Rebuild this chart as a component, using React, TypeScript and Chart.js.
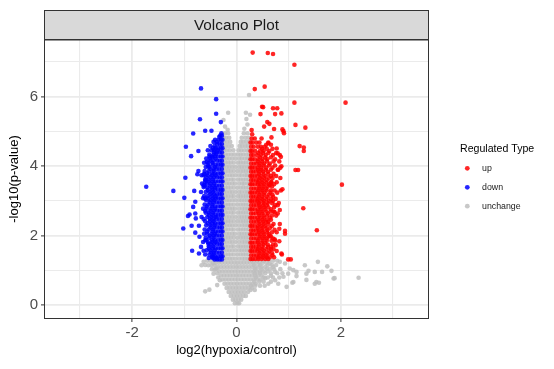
import { useEffect, useRef } from 'react';
import { Chart, registerables } from 'chart.js';

Chart.register(...registerables);

// ---------------- data ----------------
const categories = ['up', 'down', 'unchange'];
const categoryColors = ['rgba(255,0,0,0.85)', 'rgba(0,0,255,0.85)', 'rgba(190,190,190,0.85)'];

const xGrid = [-3, -2, -1, 0, 1, 2, 3];
const yGrid = [0, 1, 2, 3, 4, 5, 6, 7];
const xTickLabels = ['-2', '0', '2'];
const yTickLabels = ['0', '2', '4', '6'];

// up-regulated: isolated points [log2FC, -log10 p]
const upScatter: number[][] = [
  [0.31, 7.27], [0.6, 7.26], [0.7, 7.23], [1.11, 6.92], [0.35, 6.22], [0.54, 6.29], [1.11, 5.83], [2.09, 5.83],
  [0.49, 5.71], [0.51, 5.7], [0.7, 5.67], [0.78, 5.67], [0.86, 5.52], [0.74, 5.5], [0.46, 5.5], [0.59, 5.27],
  [0.63, 5.22], [0.53, 5.14], [0.72, 5.07], [0.88, 5.06], [0.91, 4.95], [0.9, 5.01], [1.13, 5.19], [1.32, 5.11],
  [0.67, 4.83], [0.29, 5.04], [0.3, 4.92], [0.61, 4.66], [0.77, 4.51], [0.79, 4.37], [1.21, 4.58], [1.29, 4.54],
  [1.29, 4.44], [1.13, 3.89], [1.18, 3.89], [2.02, 3.47], [0.88, 3.34], [1.28, 2.79], [1.54, 2.16], [0.93, 2.14],
  [0.83, 4.32], [0.85, 4.27], [0.86, 4.0], [0.8, 3.9], [0.67, 3.55], [0.64, 3.46], [0.79, 2.88], [0.83, 2.74],
  [0.73, 2.68], [0.7, 3.0], [0.61, 2.4], [0.73, 2.17], [0.82, 2.2], [0.93, 2.06], [0.75, 1.73], [0.77, 1.56],
  [0.86, 1.49], [0.99, 1.32], [1.04, 1.32], [0.64, 2.0], [0.73, 1.9], [0.87, 1.46], [0.82, 1.84],
];

// up-regulated dense band: [-log10 p, [log2FC...]]
const upBand: [number, number[]][] = [
  [4.8, [0.29, 0.35, 0.48]],
  [4.68, [0.27, 0.31, 0.38, 0.44, 0.61]],
  [4.56, [0.28, 0.33, 0.41, 0.47, 0.54]],
  [4.44, [0.27, 0.3, 0.36, 0.45, 0.52, 0.63]],
  [4.32, [0.28, 0.32, 0.39, 0.47, 0.56, 0.7]],
  [4.2, [0.27, 0.3, 0.35, 0.42, 0.5, 0.59, 0.74]],
  [4.08, [0.28, 0.33, 0.38, 0.45, 0.53, 0.64]],
  [3.96, [0.27, 0.3, 0.35, 0.41, 0.48, 0.57, 0.69, 0.84]],
  [3.84, [0.28, 0.32, 0.37, 0.44, 0.51, 0.6]],
  [3.72, [0.27, 0.3, 0.35, 0.4, 0.47, 0.55, 0.66, 0.76]],
  [3.6, [0.28, 0.32, 0.38, 0.43, 0.5, 0.58]],
  [3.48, [0.27, 0.3, 0.35, 0.41, 0.46, 0.53, 0.62, 0.72]],
  [3.36, [0.28, 0.33, 0.38, 0.44, 0.5, 0.57]],
  [3.24, [0.27, 0.3, 0.35, 0.4, 0.47, 0.54, 0.65, 0.78]],
  [3.12, [0.28, 0.32, 0.37, 0.43, 0.5, 0.59, 0.7]],
  [3.0, [0.27, 0.3, 0.35, 0.4, 0.46, 0.53, 0.62]],
  [2.88, [0.28, 0.33, 0.38, 0.44, 0.51, 0.58, 0.74]],
  [2.76, [0.27, 0.3, 0.35, 0.41, 0.47, 0.55, 0.66]],
  [2.64, [0.28, 0.32, 0.37, 0.43, 0.5, 0.6, 0.79]],
  [2.52, [0.27, 0.3, 0.35, 0.4, 0.46, 0.53, 0.64]],
  [2.4, [0.28, 0.33, 0.38, 0.44, 0.51, 0.57]],
  [2.28, [0.27, 0.3, 0.35, 0.41, 0.48, 0.55, 0.68]],
  [2.16, [0.28, 0.32, 0.37, 0.43, 0.5, 0.59]],
  [2.04, [0.27, 0.3, 0.35, 0.4, 0.46, 0.53, 0.62]],
  [1.92, [0.28, 0.33, 0.38, 0.44, 0.51, 0.58, 0.7]],
  [1.8, [0.27, 0.3, 0.35, 0.41, 0.48, 0.55]],
  [1.68, [0.28, 0.32, 0.37, 0.43, 0.5, 0.6, 0.66]],
  [1.56, [0.27, 0.3, 0.35, 0.4, 0.46, 0.53, 0.63]],
  [1.44, [0.28, 0.33, 0.38, 0.44, 0.51, 0.57, 0.69]],
  [1.33, [0.27, 0.31, 0.36, 0.42, 0.48, 0.55, 0.61]],
];

// up-regulated, outer (right) part of the band
const upBandOuter: [number, number[]][] = [
  [4.62, [0.57, 0.66]],
  [4.5, [0.49, 0.58, 0.69]],
  [4.38, [0.42, 0.51, 0.61, 0.76]],
  [4.26, [0.45, 0.55, 0.66]],
  [4.14, [0.41, 0.49, 0.58, 0.71, 0.82]],
  [4.02, [0.44, 0.52, 0.62, 0.74]],
  [3.9, [0.41, 0.48, 0.56, 0.66, 0.79]],
  [3.78, [0.43, 0.52, 0.61, 0.71]],
  [3.66, [0.45, 0.53, 0.62, 0.69, 0.84]],
  [3.54, [0.41, 0.49, 0.57, 0.66, 0.77]],
  [3.42, [0.44, 0.52, 0.6, 0.68]],
  [3.3, [0.42, 0.5, 0.58, 0.66, 0.73, 0.85]],
  [3.18, [0.44, 0.53, 0.62, 0.69]],
  [3.06, [0.41, 0.49, 0.57, 0.66, 0.75]],
  [2.94, [0.43, 0.52, 0.6, 0.68, 0.81]],
  [2.82, [0.45, 0.53, 0.61, 0.72]],
  [2.7, [0.41, 0.49, 0.57, 0.65, 0.71]],
  [2.58, [0.44, 0.52, 0.59, 0.68, 0.76]],
  [2.46, [0.42, 0.5, 0.58, 0.66]],
  [2.34, [0.44, 0.52, 0.61, 0.71, 0.83]],
  [2.22, [0.41, 0.49, 0.57, 0.64]],
  [2.1, [0.43, 0.51, 0.59, 0.68, 0.77]],
  [1.98, [0.45, 0.53, 0.61, 0.66]],
  [1.86, [0.41, 0.5, 0.58, 0.67, 0.74]],
  [1.74, [0.43, 0.52, 0.6, 0.7]],
  [1.62, [0.41, 0.49, 0.57, 0.66, 0.71]],
  [1.5, [0.44, 0.52, 0.6, 0.68]],
  [1.38, [0.42, 0.5, 0.58, 0.64, 0.72]],
];

// down-regulated: isolated points
const downScatter: number[][] = [
  [-0.68, 6.24], [-0.39, 5.93], [-0.39, 5.51], [-0.7, 5.35], [-0.3, 5.27], [-0.83, 4.94], [-0.6, 5.02], [-0.48, 5.02],
  [-0.97, 4.56], [-0.73, 4.44], [-0.87, 4.29], [-0.29, 4.95], [-0.33, 4.85], [-0.43, 4.47], [-0.39, 4.35], [-0.46, 4.26],
  [-1.73, 3.41], [-1.21, 3.29], [-0.98, 3.67], [-1.0, 3.09], [-0.81, 3.29], [-0.75, 3.77], [-0.83, 2.83], [-0.79, 2.98],
  [-0.9, 2.61], [-0.93, 2.57], [-0.79, 2.64], [-0.78, 2.5], [-1.02, 2.21], [-0.86, 2.29], [-0.72, 2.29], [-0.79, 2.09],
  [-0.6, 3.07], [-0.63, 3.4], [-0.6, 3.55], [-0.73, 3.86], [-0.54, 3.99], [-0.57, 4.13], [-0.67, 3.74], [-0.71, 1.97],
  [-0.85, 1.57], [-0.72, 1.49], [-0.63, 1.57], [-0.68, 1.68], [-0.6, 1.87], [-0.54, 1.77], [-0.47, 1.39], [-0.38, 1.35],
  [-0.62, 3.78], [-0.59, 3.59], [-0.63, 3.45],
];

// down-regulated dense band
const downBand: [number, number[]][] = [
  [4.88, [-0.28, -0.31]],
  [4.76, [-0.27, -0.3, -0.34, -0.41]],
  [4.64, [-0.28, -0.32, -0.37]],
  [4.52, [-0.27, -0.3, -0.35, -0.4, -0.45]],
  [4.4, [-0.28, -0.32, -0.38, -0.43]],
  [4.28, [-0.27, -0.3, -0.35, -0.41, -0.47, -0.52]],
  [4.16, [-0.28, -0.32, -0.37, -0.44, -0.5]],
  [4.04, [-0.27, -0.3, -0.35, -0.4, -0.46, -0.55]],
  [3.92, [-0.28, -0.33, -0.38, -0.44, -0.5]],
  [3.8, [-0.27, -0.3, -0.35, -0.41, -0.47, -0.56]],
  [3.68, [-0.28, -0.32, -0.37, -0.43, -0.5, -0.58]],
  [3.56, [-0.27, -0.3, -0.35, -0.4, -0.46, -0.53]],
  [3.44, [-0.28, -0.33, -0.38, -0.44, -0.51, -0.61]],
  [3.32, [-0.27, -0.3, -0.35, -0.41, -0.47, -0.55]],
  [3.2, [-0.28, -0.32, -0.37, -0.43, -0.5]],
  [3.08, [-0.27, -0.3, -0.35, -0.4, -0.46, -0.54, -0.64]],
  [2.96, [-0.28, -0.33, -0.38, -0.44, -0.51]],
  [2.84, [-0.27, -0.3, -0.35, -0.41, -0.47, -0.57]],
  [2.72, [-0.28, -0.32, -0.37, -0.43, -0.5, -0.6]],
  [2.6, [-0.27, -0.3, -0.35, -0.4, -0.46, -0.53]],
  [2.48, [-0.28, -0.33, -0.38, -0.44, -0.51, -0.63]],
  [2.36, [-0.27, -0.3, -0.35, -0.41, -0.47, -0.55]],
  [2.24, [-0.28, -0.32, -0.37, -0.43, -0.5]],
  [2.12, [-0.27, -0.3, -0.35, -0.4, -0.46, -0.56]],
  [2.0, [-0.28, -0.33, -0.38, -0.44, -0.51]],
  [1.88, [-0.27, -0.3, -0.35, -0.41, -0.47, -0.58]],
  [1.76, [-0.28, -0.32, -0.37, -0.43, -0.5]],
  [1.64, [-0.27, -0.3, -0.35, -0.4, -0.46, -0.53]],
  [1.52, [-0.28, -0.33, -0.38, -0.44, -0.49]],
  [1.41, [-0.27, -0.3, -0.35, -0.41, -0.46]],
  [1.32, [-0.28, -0.32, -0.37, -0.42]],
];

// down-regulated, outer (left) part of the band
const downBandOuter: [number, number[]][] = [
  [4.7, [-0.38, -0.44]],
  [4.58, [-0.42, -0.5]],
  [4.46, [-0.36, -0.48, -0.55]],
  [4.34, [-0.44, -0.52]],
  [4.22, [-0.4, -0.51, -0.58]],
  [4.1, [-0.46, -0.54, -0.62]],
  [3.98, [-0.41, -0.52, -0.59]],
  [3.86, [-0.44, -0.53, -0.61]],
  [3.74, [-0.4, -0.47, -0.55, -0.63]],
  [3.62, [-0.45, -0.53, -0.6]],
  [3.5, [-0.43, -0.5, -0.57, -0.66]],
  [3.38, [-0.41, -0.48, -0.56]],
  [3.26, [-0.45, -0.52, -0.59, -0.68]],
  [3.14, [-0.4, -0.47, -0.55, -0.62]],
  [3.02, [-0.43, -0.5, -0.58]],
  [2.9, [-0.46, -0.54, -0.61]],
  [2.78, [-0.41, -0.49, -0.57, -0.64]],
  [2.66, [-0.45, -0.53, -0.59]],
  [2.54, [-0.4, -0.48, -0.56, -0.67]],
  [2.42, [-0.44, -0.51, -0.6]],
  [2.3, [-0.42, -0.5, -0.58]],
  [2.18, [-0.45, -0.53, -0.61]],
  [2.06, [-0.41, -0.48, -0.56, -0.62]],
  [1.94, [-0.44, -0.52, -0.59]],
  [1.82, [-0.4, -0.47, -0.55, -0.64]],
  [1.7, [-0.45, -0.53]],
  [1.58, [-0.42, -0.5, -0.57]],
  [1.46, [-0.44, -0.52, -0.6]],
  [1.36, [-0.39, -0.45, -0.53]],
];

// unchanged: isolated points
const flatScatter: number[][] = [
  [0.24, 6.05], [0.18, 5.54], [0.26, 5.48], [0.19, 5.36], [-0.16, 5.54], [-0.25, 5.33], [-0.22, 5.14], [-0.17, 5.05],
  [0.21, 5.2], [0.15, 5.08],
  [0.64, 1.2], [0.74, 0.96], [0.83, 1.25], [0.93, 1.2], [0.99, 0.91], [1.09, 1.01], [1.15, 0.96], [1.31, 1.15],
  [1.34, 0.91], [1.5, 0.96], [1.53, 0.67], [1.56, 1.25], [1.64, 0.96], [1.74, 1.12], [1.82, 0.99], [1.86, 0.77],
  [0.96, 0.53], [0.8, 0.62], [1.09, 0.67], [0.74, 0.72], [0.61, 0.62], [1.5, 0.62], [1.15, 0.84], [0.9, 0.82],
  [1.02, 1.06], [2.34, 0.79], [0.7, 1.1], [0.66, 0.85], [0.55, 0.78], [0.58, 1.05], [1.88, 0.78], [1.58, 0.65],
  [1.34, 0.73], [1.38, 0.99], [1.07, 0.65],
  [-0.63, 1.25], [-0.54, 1.15], [-0.67, 1.15], [-0.44, 0.91], [-0.38, 1.06], [-0.6, 0.4], [-0.52, 0.45],
  [-0.37, 0.58], [-0.32, 0.72], [-0.45, 1.22], [-0.5, 1.28], [-0.42, 1.02],
];

// unchanged dense core
const flatBand: [number, number[]][] = [
  [4.95, [-0.22, -0.16, 0.14, 0.21]],
  [4.82, [-0.25, -0.2, -0.14, 0.1, 0.17, 0.23]],
  [4.7, [-0.24, -0.18, -0.12, 0.08, 0.13, 0.19, 0.25]],
  [4.58, [-0.26, -0.21, -0.15, -0.09, 0.06, 0.11, 0.17, 0.22]],
  [4.46, [-0.24, -0.19, -0.13, -0.06, 0.04, 0.09, 0.15, 0.21, 0.25]],
  [4.34, [-0.26, -0.21, -0.16, -0.1, -0.04, 0.03, 0.08, 0.13, 0.19, 0.24]],
  [4.22, [-0.24, -0.19, -0.14, -0.08, -0.02, 0.05, 0.1, 0.16, 0.21, 0.25]],
  [4.1, [-0.26, -0.21, -0.16, -0.11, -0.05, 0.03, 0.08, 0.13, 0.18, 0.23]],
  [3.98, [-0.25, -0.19, -0.14, -0.08, -0.02, 0.05, 0.1, 0.15, 0.21, 0.25]],
  [3.86, [-0.26, -0.21, -0.16, -0.11, -0.05, 0.02, 0.08, 0.13, 0.18, 0.23]],
  [3.74, [-0.24, -0.19, -0.13, -0.08, -0.02, 0.05, 0.1, 0.16, 0.2, 0.25]],
  [3.62, [-0.26, -0.21, -0.16, -0.1, -0.05, 0.03, 0.08, 0.13, 0.18, 0.23]],
  [3.5, [-0.25, -0.19, -0.14, -0.08, -0.03, 0.05, 0.11, 0.15, 0.21, 0.25]],
  [3.38, [-0.26, -0.21, -0.16, -0.11, -0.05, 0.02, 0.08, 0.13, 0.18, 0.23]],
  [3.26, [-0.24, -0.19, -0.13, -0.08, -0.02, 0.05, 0.1, 0.16, 0.21, 0.25]],
  [3.14, [-0.26, -0.21, -0.16, -0.1, -0.05, 0.03, 0.08, 0.13, 0.18, 0.23]],
  [3.02, [-0.25, -0.19, -0.14, -0.08, -0.02, 0.05, 0.1, 0.15, 0.2, 0.25]],
  [2.9, [-0.26, -0.21, -0.16, -0.11, -0.05, 0.02, 0.08, 0.13, 0.18, 0.23]],
  [2.78, [-0.24, -0.19, -0.13, -0.08, -0.03, 0.05, 0.11, 0.16, 0.21, 0.25]],
  [2.66, [-0.26, -0.21, -0.16, -0.1, -0.05, 0.03, 0.08, 0.13, 0.18, 0.23]],
  [2.54, [-0.25, -0.19, -0.14, -0.08, -0.02, 0.05, 0.1, 0.15, 0.2, 0.25]],
  [2.42, [-0.26, -0.21, -0.16, -0.11, -0.05, 0.02, 0.08, 0.13, 0.18, 0.23]],
  [2.3, [-0.24, -0.19, -0.13, -0.08, -0.02, 0.05, 0.11, 0.16, 0.21, 0.25]],
  [2.18, [-0.26, -0.21, -0.16, -0.1, -0.05, 0.03, 0.08, 0.13, 0.18, 0.23]],
  [2.06, [-0.25, -0.19, -0.14, -0.08, -0.03, 0.05, 0.1, 0.15, 0.2, 0.25]],
  [1.94, [-0.26, -0.21, -0.16, -0.11, -0.05, 0.02, 0.08, 0.13, 0.18, 0.23]],
  [1.82, [-0.24, -0.19, -0.13, -0.08, -0.02, 0.05, 0.11, 0.16, 0.21, 0.25]],
  [1.7, [-0.26, -0.21, -0.16, -0.1, -0.05, 0.03, 0.08, 0.13, 0.18, 0.23]],
  [1.58, [-0.25, -0.19, -0.14, -0.08, -0.02, 0.05, 0.1, 0.15, 0.2, 0.25]],
  [1.46, [-0.26, -0.21, -0.16, -0.11, -0.05, 0.02, 0.08, 0.13, 0.18, 0.23]],
  [1.34, [-0.24, -0.19, -0.13, -0.08, -0.02, 0.05, 0.11, 0.16, 0.21, 0.25]],
  [1.22, [-0.4, -0.34, -0.28, -0.22, -0.16, -0.1, -0.04, 0.02, 0.08, 0.14, 0.2, 0.26, 0.32, 0.38, 0.44, 0.5, 0.57]],
  [1.1, [-0.36, -0.3, -0.24, -0.18, -0.12, -0.06, 0.0, 0.06, 0.12, 0.18, 0.24, 0.3, 0.36, 0.42, 0.48, 0.55]],
  [0.98, [-0.33, -0.27, -0.21, -0.15, -0.09, -0.03, 0.03, 0.09, 0.15, 0.21, 0.27, 0.33, 0.39, 0.45, 0.52, 0.6]],
  [0.86, [-0.3, -0.24, -0.18, -0.12, -0.06, 0.0, 0.06, 0.12, 0.18, 0.24, 0.3, 0.36, 0.42, 0.48]],
  [0.74, [-0.27, -0.21, -0.15, -0.09, -0.03, 0.03, 0.09, 0.15, 0.21, 0.27, 0.33, 0.4, 0.46]],
  [0.62, [-0.23, -0.17, -0.11, -0.05, 0.01, 0.07, 0.13, 0.19, 0.25, 0.31, 0.37]],
  [0.5, [-0.19, -0.13, -0.07, -0.01, 0.05, 0.11, 0.17, 0.23, 0.3]],
  [0.38, [-0.15, -0.09, -0.03, 0.03, 0.09, 0.15, 0.22]],
  [0.27, [-0.11, -0.05, 0.01, 0.07, 0.13, 0.18]],
  [0.16, [-0.07, -0.02, 0.04, 0.09]],
  [0.06, [-0.03, 0.02, 0.05]],
];

// unchanged, low-significance wings
const flatWing: [number, number[]][] = [
  [1.28, [-0.56, -0.42, -0.33, 0.3, 0.4, 0.52, 0.62, 0.7, 0.78]],
  [1.16, [-0.6, -0.48, -0.42, 0.33, 0.45, 0.6, 0.68, 0.76]],
  [1.04, [-0.47, -0.4, 0.36, 0.48, 0.64, 0.72, 0.84]],
  [0.92, [-0.37, 0.35, 0.45, 0.55, 0.66, 0.78, 0.88]],
  [0.8, [-0.35, 0.37, 0.52, 0.6, 0.7, 0.82]],
  [0.68, [0.34, 0.44, 0.52, 0.66]],
  [0.56, [0.28, 0.36, 0.45, 0.54]],
  [0.44, [0.27, 0.35]],
];

// ---------------- helpers ----------------
const FONT = "'Liberation Sans', Arial, Helvetica, sans-serif";
const fromPairs = (p: number[][]) => p.map(([x, y]) => ({ x, y }));
const fromBand = (rows: [number, number[]][]) => rows.flatMap(([y, xs]) => xs.map((x) => ({ x, y })));

const decoPlugin = {
  id: 'deco',
  afterDraw(chart: any) {
    const { ctx, chartArea: a } = chart;
    ctx.save();
    // strip
    const stripTop = 10.5;
    ctx.fillStyle = '#D9D9D9';
    ctx.fillRect(a.left, stripTop, a.right - a.left, a.top - stripTop);
    ctx.strokeStyle = '#333333';
    ctx.lineWidth = 1;
    ctx.strokeRect(a.left - 0.5, stripTop, a.right - a.left + 1, a.top - stripTop);
    ctx.fillStyle = '#1A1A1A';
    ctx.font = `15.3px ${FONT}`;
    ctx.textAlign = 'center';
    ctx.textBaseline = 'middle';
    ctx.fillText('Volcano Plot', (a.left + a.right) / 2, 25.5);
    // panel border
    ctx.strokeRect(a.left - 0.5, a.top - 0.5, a.right - a.left + 1, a.bottom - a.top + 1);
    // legend
    ctx.textAlign = 'left';
    ctx.fillStyle = '#000000';
    ctx.font = `10.6px ${FONT}`;
    ctx.fillText('Regulated Type', 460, 149);
    ctx.font = `8.8px ${FONT}`;
    const ys = [168.3, 187.3, 206.2];
    chart.data.datasets.forEach((ds: any, i: number) => {
      ctx.fillStyle = ds.backgroundColor;
      ctx.beginPath();
      ctx.arc(467.3, ys[i], 2.4, 0, Math.PI * 2);
      ctx.fill();
      ctx.fillStyle = '#1A1A1A';
      ctx.fillText(ds.label, 482, ys[i] + 0.5);
    });
    ctx.restore();
  },
};

export default function App() {
  const ref = useRef<HTMLCanvasElement | null>(null);

  useEffect(() => {
    if (!ref.current) return;
    const isMajorX = (v: number) => xTickLabels.includes(String(v));
    const isMajorY = (v: number) => yTickLabels.includes(String(v));
    const chart = new Chart(ref.current, {
      type: 'scatter',
      data: {
        datasets: [
          {
            label: categories[0],
            data: [...fromBand(upBand), ...fromBand(upBandOuter), ...fromPairs(upScatter)],
            backgroundColor: categoryColors[0],
          },
          {
            label: categories[1],
            data: [...fromBand(downBand), ...fromBand(downBandOuter), ...fromPairs(downScatter)],
            backgroundColor: categoryColors[1],
          },
          {
            label: categories[2],
            data: [...fromBand(flatBand), ...fromBand(flatWing), ...fromPairs(flatScatter)],
            backgroundColor: categoryColors[2],
          },
        ],
      },
      options: {
        animation: false,
        responsive: true,
        maintainAspectRatio: false,
        events: [],
        elements: { point: { radius: 2.3, borderWidth: 0, hoverRadius: 2.3 } },
        layout: { padding: { top: 40, right: 126, left: 0, bottom: 0 } },
        plugins: { legend: { display: false }, tooltip: { enabled: false }, title: { display: false } },
        scales: {
          x: {
            type: 'linear',
            min: -3.67,
            max: 3.67,
            afterBuildTicks: (s: any) => { s.ticks = xGrid.map((v) => ({ value: v })); },
            afterFit: (s: any) => { s.height = 51; },
            ticks: {
              autoSkip: false,
              maxRotation: 0,
              padding: 1.5,
              color: '#4D4D4D',
              font: { family: FONT, size: 15 },
              callback: (v: any) => (isMajorX(Number(v)) ? String(v) : ''),
            },
            grid: {
              color: '#EBEBEB',
              lineWidth: (c: any) => (c.tick && isMajorX(c.tick.value) ? 1.8 : 1.1),
              tickLength: 4,
              tickWidth: 1,
              tickColor: (c: any) => (c.tick && isMajorX(c.tick.value) ? '#333333' : 'rgba(0,0,0,0)'),
            },
            border: { display: false },
            title: { display: true, text: 'log2(hypoxia/control)', color: '#000000', font: { family: FONT, size: 13 }, padding: { top: 0, bottom: 11 } },
          },
          y: {
            type: 'linear',
            min: -0.366,
            max: 7.632,
            afterBuildTicks: (s: any) => { s.ticks = yGrid.map((v) => ({ value: v })); },
            afterFit: (s: any) => { s.width = 45; },
            ticks: {
              autoSkip: false,
              padding: 3,
              color: '#4D4D4D',
              font: { family: FONT, size: 15 },
              callback: (v: any) => (isMajorY(Number(v)) ? String(v) : ''),
            },
            grid: {
              color: '#EBEBEB',
              lineWidth: (c: any) => (c.tick && isMajorY(c.tick.value) ? 1.8 : 1.1),
              tickLength: 4,
              tickWidth: 1,
              tickColor: (c: any) => (c.tick && isMajorY(c.tick.value) ? '#333333' : 'rgba(0,0,0,0)'),
            },
            border: { display: false },
            title: { display: true, text: '-log10(p-value)', color: '#000000', font: { family: FONT, size: 13 }, padding: { top: 7, bottom: 0 } },
          },
        },
      },
      plugins: [decoPlugin],
    } as any);
    return () => chart.destroy();
  }, []);

  return (
    <div style={{ position: 'fixed', left: 0, top: 0, width: 554, height: 369, background: '#ffffff' }}>
      <canvas ref={ref} />
    </div>
  );
}
